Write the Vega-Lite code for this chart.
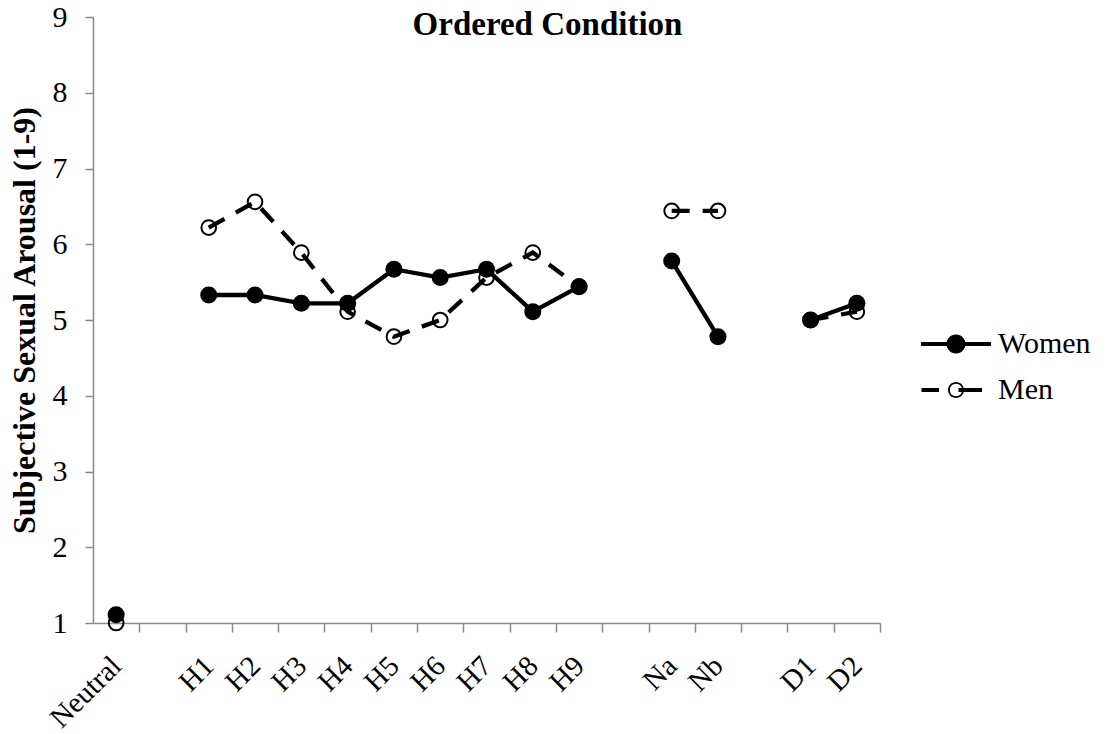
{
  "$schema": "https://vega.github.io/schema/vega-lite/v6.json",
  "width": 787,
  "height": 606,
  "autosize": {"type": "none"},
  "padding": {"left": 93, "top": 17, "right": 227, "bottom": 111},
  "background": "white",
  "config": {"view": {"stroke": null}, "font": "Liberation Serif"},
  "title": {
    "text": "Ordered Condition",
    "font": "Liberation Serif",
    "fontSize": 33,
    "fontWeight": "bold",
    "color": "black",
    "anchor": "middle",
    "frame": "group",
    "baseline": "alphabetic",
    "offset": 0,
    "dx": 61,
    "dy": 66
  },
  "data": {
    "values": [
      {"stimulus": "Neutral", "series": "Men", "rating": 1.0, "seg": "n"},
      {"stimulus": "H1", "series": "Men", "rating": 6.22, "seg": "h"},
      {"stimulus": "H2", "series": "Men", "rating": 6.56, "seg": "h"},
      {"stimulus": "H3", "series": "Men", "rating": 5.89, "seg": "h"},
      {"stimulus": "H4", "series": "Men", "rating": 5.11, "seg": "h"},
      {"stimulus": "H5", "series": "Men", "rating": 4.78, "seg": "h"},
      {"stimulus": "H6", "series": "Men", "rating": 5.0, "seg": "h"},
      {"stimulus": "H7", "series": "Men", "rating": 5.56, "seg": "h"},
      {"stimulus": "H8", "series": "Men", "rating": 5.89, "seg": "h"},
      {"stimulus": "H9", "series": "Men", "rating": 5.44, "seg": "h"},
      {"stimulus": "Na", "series": "Men", "rating": 6.44, "seg": "x"},
      {"stimulus": "Nb", "series": "Men", "rating": 6.44, "seg": "x"},
      {"stimulus": "D1", "series": "Men", "rating": 5.0, "seg": "d"},
      {"stimulus": "D2", "series": "Men", "rating": 5.11, "seg": "d"},
      {"stimulus": "Neutral", "series": "Women", "rating": 1.11, "seg": "n"},
      {"stimulus": "H1", "series": "Women", "rating": 5.33, "seg": "h"},
      {"stimulus": "H2", "series": "Women", "rating": 5.33, "seg": "h"},
      {"stimulus": "H3", "series": "Women", "rating": 5.22, "seg": "h"},
      {"stimulus": "H4", "series": "Women", "rating": 5.22, "seg": "h"},
      {"stimulus": "H5", "series": "Women", "rating": 5.67, "seg": "h"},
      {"stimulus": "H6", "series": "Women", "rating": 5.56, "seg": "h"},
      {"stimulus": "H7", "series": "Women", "rating": 5.67, "seg": "h"},
      {"stimulus": "H8", "series": "Women", "rating": 5.11, "seg": "h"},
      {"stimulus": "H9", "series": "Women", "rating": 5.44, "seg": "h"},
      {"stimulus": "Na", "series": "Women", "rating": 5.78, "seg": "x"},
      {"stimulus": "Nb", "series": "Women", "rating": 4.78, "seg": "x"},
      {"stimulus": "D1", "series": "Women", "rating": 5.0, "seg": "d"},
      {"stimulus": "D2", "series": "Women", "rating": 5.22, "seg": "d"}
    ]
  },
  "encoding": {
    "x": {
      "field": "stimulus",
      "type": "nominal",
      "sort": null,
      "scale": {
        "type": "band",
        "domain": ["Neutral", "gap1", "H1", "H2", "H3", "H4", "H5", "H6", "H7", "H8", "H9", "gap2", "Na", "Nb", "gap3", "D1", "D2"],
        "paddingInner": 0,
        "paddingOuter": 0
      },
      "axis": {
        "title": null,
        "labelExpr": "indexof(datum.value, 'gap') == 0 ? '' : datum.value",
        "labelAngle": -45,
        "labelAlign": "right",
        "labelBaseline": "middle",
        "labelFont": "Liberation Serif",
        "labelFontSize": 29,
        "labelColor": "black",
        "labelPadding": 29,
        "tickOffset": 23.15,
        "labelOffset": -23.15,
        "tickSize": 9,
        "tickColor": "#898989",
        "tickWidth": 1.5,
        "domainColor": "#898989",
        "domainWidth": 1.5,
        "grid": false,
        "labelOverlap": false
      }
    },
    "y": {
      "field": "rating",
      "type": "quantitative",
      "scale": {"domain": [1, 9], "nice": false, "zero": false},
      "axis": {
        "values": [1, 2, 3, 4, 5, 6, 7, 8, 9],
        "grid": false,
        "tickSize": 8,
        "tickColor": "#898989",
        "tickWidth": 1.5,
        "domainColor": "#898989",
        "domainWidth": 1.5,
        "labelFont": "Liberation Serif",
        "labelFontSize": 30,
        "labelColor": "black",
        "labelPadding": 18,
        "title": "Subjective Sexual Arousal (1-9)",
        "titleFont": "Liberation Serif",
        "titleFontSize": 32,
        "titleFontWeight": "bold",
        "titleColor": "black",
        "titleAngle": 270,
        "titleAlign": "center",
        "titleBaseline": "alphabetic",
        "titleX": -59,
        "titleY": 303
      }
    }
  },
  "layer": [
    {
      "transform": [{"filter": "datum.series === 'Men'"}],
      "mark": {"type": "line", "color": "black", "strokeWidth": 4.3, "strokeDash": [18, 13]},
      "encoding": {"detail": {"field": "seg", "type": "nominal"}}
    },
    {
      "transform": [{"filter": "datum.series === 'Men'"}],
      "mark": {"type": "point", "shape": "circle", "filled": false, "stroke": "black", "strokeWidth": 2, "size": 215, "opacity": 1}
    },
    {
      "transform": [{"filter": "datum.series === 'Women'"}],
      "mark": {"type": "line", "color": "black", "strokeWidth": 4.3},
      "encoding": {"detail": {"field": "seg", "type": "nominal"}}
    },
    {
      "transform": [{"filter": "datum.series === 'Women'"}],
      "mark": {"type": "point", "shape": "circle", "filled": true, "size": 290, "opacity": 1, "strokeWidth": 0},
      "encoding": {
        "fill": {
          "field": "series",
          "type": "nominal",
          "scale": {"domain": ["Women", "Men"], "range": ["black", "black"]},
          "legend": {
            "title": null,
            "orient": "none",
            "legendX": 848,
            "legendY": 312,
            "padding": 0,
            "symbolType": "M-3.5,-0.21H3.5V0.21H-3.5ZM0.95,0A0.95,0.95,0,1,1,-0.95,0A0.95,0.95,0,1,1,0.95,0Z",
            "symbolSize": 400,
            "symbolStrokeWidth": 0,
            "symbolOpacity": 1,
            "labelOffset": 27,
            "labelFont": "Liberation Serif",
            "labelFontSize": 30,
            "labelColor": "black",
            "rowPadding": 16,
            "encode": {
              "symbols": {
                "update": {
                  "shape": {"signal": "datum.value === 'Men' ? 'M-3.45,-0.21H-1.7V0.21H-3.45ZM0.8,0A0.8,0.8,0,1,1,-0.8,0A0.8,0.8,0,1,1,0.8,0ZM0.62,0A0.62,0.62,0,1,0,-0.62,0A0.62,0.62,0,1,0,0.62,0ZM0.25,-0.21H2.6V0.21H0.25Z' : 'M-3.5,-0.21H3.5V0.21H-3.5ZM0.95,0A0.95,0.95,0,1,1,-0.95,0A0.95,0.95,0,1,1,0.95,0Z'"},
                  "fill": {"value": "black"},
                  "opacity": {"value": 1}
                }
              }
            }
          }
        }
      }
    }
  ]
}
